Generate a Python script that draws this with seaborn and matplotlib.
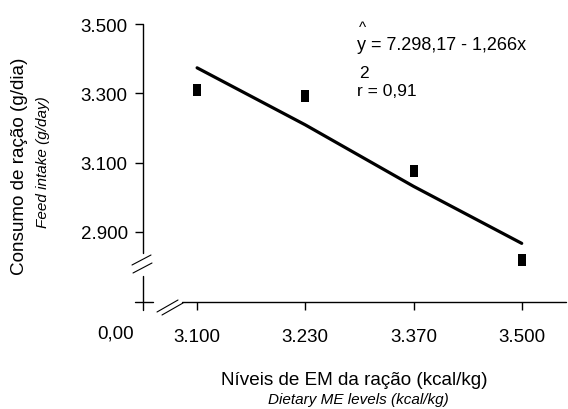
import matplotlib
matplotlib.use("Agg")
import matplotlib.pyplot as plt
import matplotlib.ticker as mticker
from matplotlib.lines import Line2D
import numpy as np
import pandas as pd
import seaborn as sns

# data
em_levels = [3100, 3230, 3370, 3500]
em_labels = ["3.100", "3.230", "3.370", "3.500"]
feed_intake = [3309, 3291, 3076, 2819]
y_ticks = [2900, 3100, 3300, 3500]
intercept = 7298.17
slope = -1.266

sns.set_style("white")
plt.rcParams["font.family"] = ["Liberation Sans", "DejaVu Sans"]
plt.rcParams["text.color"] = "black"

W, H = 568, 410
fig = plt.figure(figsize=(W / 100, H / 100), dpi=100)
ax = fig.add_axes([143 / W, 1 - 303 / H, 422 / W, 278 / H])

df = pd.DataFrame({
    "pos": np.arange(len(em_levels)),
    "em": em_levels,
    "intake": feed_intake,
})
df["fit"] = intercept + slope * df["em"]

sns.lineplot(data=df, x="pos", y="fit", color="black", lw=2.3, ax=ax)
rect = [(-2, -3), (2, -3), (2, 3), (-2, 3)]
sns.scatterplot(data=df, x="pos", y="intake", marker=rect, s=80,
                color="black", linewidth=0, ax=ax, zorder=3)

ax.set_xlim(-0.5, 3.4)
ax.set_ylim(2698, 3500)
ax.set_xticks(df["pos"], em_labels)
ax.set_yticks(y_ticks)
ax.yaxis.set_major_formatter(
    mticker.FuncFormatter(lambda v, _: f"{v:,.0f}".replace(",", ".")))
for s in ax.spines.values():
    s.set_visible(False)
ax.tick_params(axis="both", direction="out", length=6, width=1.0,
               color="black", labelsize=13.5, labelcolor="black",
               left=True, bottom=True)
ax.tick_params(axis="x", pad=13)
ax.tick_params(axis="y", pad=5)
ax.set_xlabel("")
ax.set_ylabel("")


def px(x, y):
    return x / W, 1 - y / H


def seg(p0, p1, lw=1.0):
    (x0, y0), (x1, y1) = px(*p0), px(*p1)
    fig.add_artist(Line2D([x0, x1], [y0, y1], color="black", lw=lw,
                          transform=fig.transFigure))


# axis lines with breaks
seg((143, 25), (143, 254))
seg((143, 277), (143, 311))
seg((135, 303), (153, 303))
seg((182, 303), (566, 303))
seg((132, 266), (151, 256), 0.8)
seg((133, 274), (152, 264), 0.8)
seg((157, 313), (178, 301), 0.8)
seg((162, 316), (183, 304), 0.8)

fig.text(*px(116, 334), "0,00", ha="center", va="center", fontsize=13.5)

fig.text(*px(20, 166), "Consumo de ração (g/dia)", rotation=90,
         ha="center", va="center", fontsize=13.6)
fig.text(*px(43, 162), "Feed intake (g/day)", rotation=90,
         ha="center", va="center", fontsize=11, style="italic")
fig.text(*px(354, 381), "Níveis de EM da ração (kcal/kg)",
         ha="center", va="center", fontsize=13.6)
fig.text(*px(358, 400), "Dietary ME levels (kcal/kg)",
         ha="center", va="center", fontsize=11, style="italic")

fig.text(*px(359, 28), "^", ha="left", va="center", fontsize=11)
fig.text(*px(357, 46), "y = 7.298,17 - 1,266x", ha="left", va="center",
         fontsize=13)
fig.text(*px(359, 74), "2", ha="left", va="center", fontsize=12.5)
fig.text(*px(357, 91), "r = 0,91", ha="left", va="center", fontsize=12.5)

fig.savefig("out.png", dpi=100, facecolor="white")
